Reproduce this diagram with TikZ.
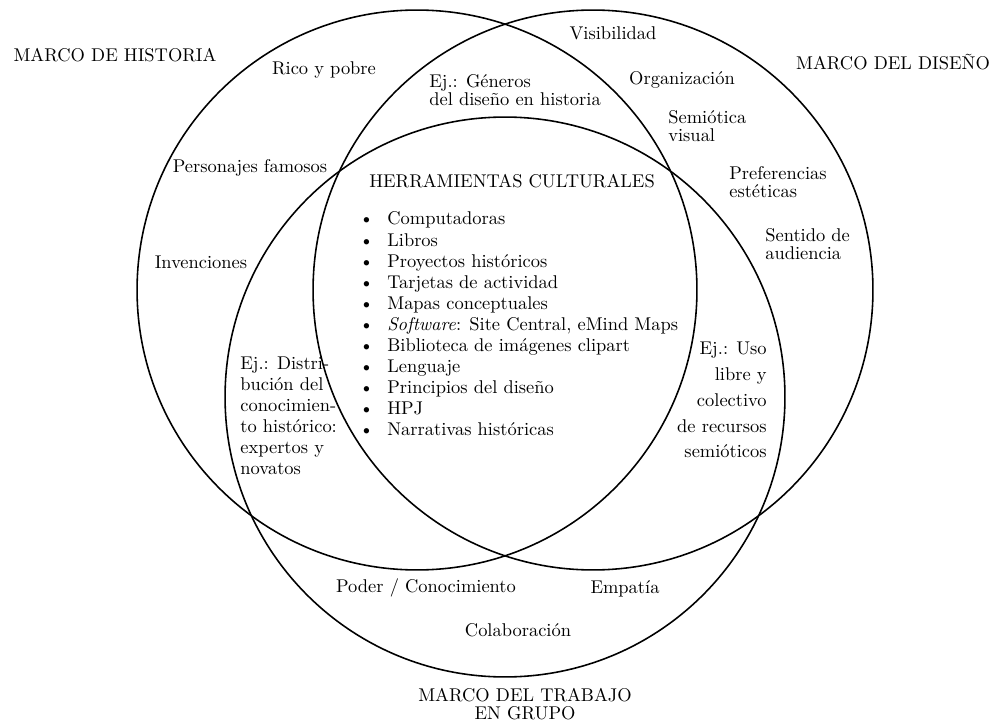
\documentclass[tikz,border=0pt]{standalone}
\usepackage{fontspec}
\usetikzlibrary{positioning}

\newcommand{\itm}{\makebox[0.56cm][l]{\textbullet}}

\begin{document}
\begin{tikzpicture}[x=0.02cm,y=-0.02cm,
    ring/.style={line width=0.9pt},
    lbl/.style={inner sep=0pt,font=\fontsize{10.5}{12}\selectfont},
    tight/.style={align=left,font=\fontsize{10.5}{10}\selectfont}]
    \useasboundingbox (0,0) rectangle (1000,726);

    % Circles
    \draw[ring] (417,290) circle[radius=5.6cm];
    \draw[ring] (593,290) circle[radius=5.6cm];
    \draw[ring] (505,397) circle[radius=5.6cm];

    % Marco de historia
    \node[lbl] (hist) at (115,55) {MARCO DE HISTORIA};
    \node[lbl] (rico) at (324,70) {Rico y pobre};
    \node[lbl] (famosos) at (250,168) {Personajes famosos};
    \node[lbl] (invenc) at (201,262) {Invenciones};
    \node[lbl,tight,anchor=west] (generos) at (429,90) {Ej.: Géneros\\del diseño en historia};

    % Marco del diseno
    \node[lbl] (visib) at (613,33) {Visibilidad};
    \node[lbl] (diseno) at (893,62) {MARCO DEL DISEÑO};
    \node[lbl] (organiz) at (682,80) {Organización};
    \node[lbl,tight,anchor=west] (semiot) at (668,126) {Semiótica\\visual};
    \node[lbl,tight,anchor=west] (prefer) at (729,182) {Preferencias\\estéticas};
    \node[lbl,tight,anchor=west] (sentido) at (765,244) {Sentido de\\audiencia};

    % Herramientas culturales
    \node[lbl] (herram) at (512,181) {HERRAMIENTAS CULTURALES};
    \node[lbl,align=left,anchor=west] (lista) at (359,324) {\itm Computadoras\\
        \itm Libros\\
        \itm Proyectos históricos\\
        \itm Tarjetas de actividad\\
        \itm Mapas conceptuales\\
        \itm \textit{Software}: Site Central, eMind Maps\\
        \itm Biblioteca de imágenes clipart\\
        \itm Lenguaje\\
        \itm Principios del diseño\\
        \itm HPJ\\
        \itm Narrativas históricas};

    % Ejemplos en las intersecciones
    \node[lbl,align=left,anchor=west] (distrib) at (240,416) {Ej.: Distri-\\bución del\\conocimien-\\to histórico:\\expertos y\\novatos};
    \node[lbl,align=right,anchor=east,font=\fontsize{10.5}{14.7}\selectfont] (uso) at (767,400) {Ej.: Uso\\libre y\\colectivo\\de recursos\\semióticos};

    % Marco del trabajo en grupo
    \node[lbl] (poder) at (426,588) {Poder / Conocimiento};
    \node[lbl] (empatia) at (625,589) {Empatía};
    \node[lbl] (colab) at (518,630) {Colaboración};
    \node[lbl,tight,align=center] (grupo) at (525,704) {MARCO DEL TRABAJO\\EN GRUPO};
\end{tikzpicture}
\end{document}
